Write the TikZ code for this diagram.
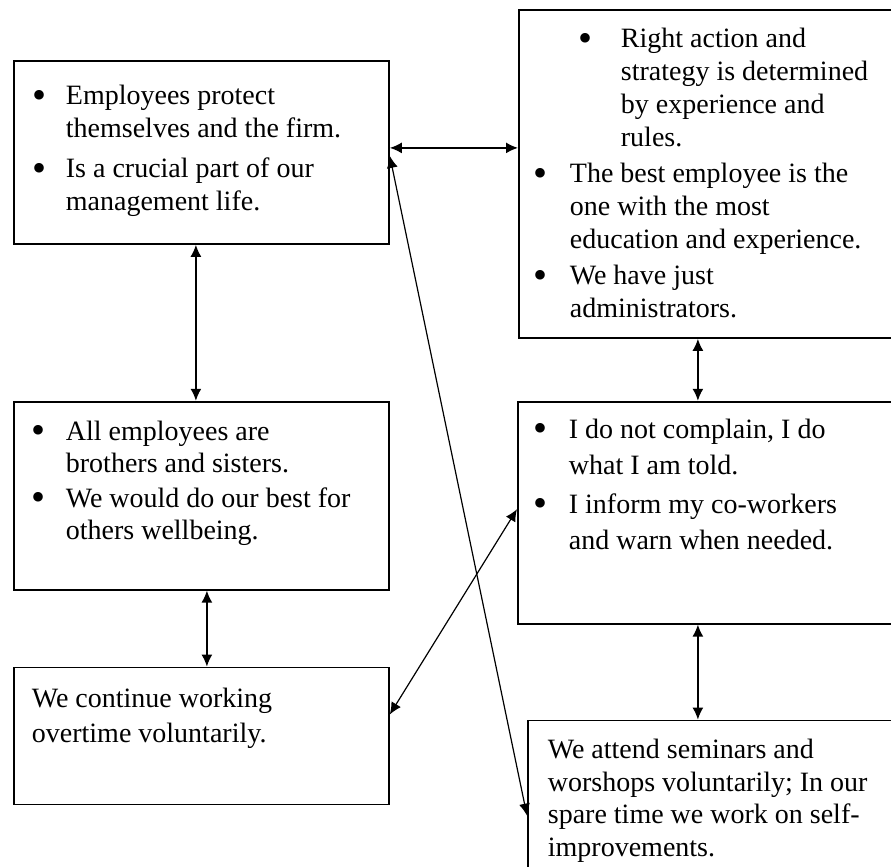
\documentclass[tikz,border=0pt]{standalone}
\usepackage{fontspec}
\setmainfont{Liberation Serif}
\usetikzlibrary{arrows,arrows.meta,positioning}

\newcommand{\bigdot}{\raisebox{-1.6pt}{\fontsize{20}{16}\selectfont\textbullet}}
\newenvironment{blist}[3]{\begin{list}{\bigdot}{%
  \setlength{\leftmargin}{#1}\setlength{\labelsep}{#2}%
  \setlength{\labelwidth}{\dimexpr#1-#2\relax}%
  \setlength{\itemsep}{#3}\setlength{\parsep}{0pt}%
  \setlength{\topsep}{0pt}\setlength{\partopsep}{0pt}}}{\end{list}}

% width, height, baselineskip, first baseline, text
\newcommand{\boxtext}[5]{\parbox[c][#2][t]{#1}{\fontsize{14}{#3}\selectfont
  \raggedright\vspace*{\dimexpr#4-\ht\strutbox\relax}#5}}

\begin{document}
\begin{tikzpicture}[x=0.5pt,y=0.5pt,
  box/.style={draw,line width=0.9pt,inner sep=0pt,anchor=north west},
  dbl/.style={{Latex[length=6pt,width=5.5pt]}-{Latex[length=6pt,width=5.5pt]},line width=0.8pt}]
  \path[use as bounding box] (0,0) rectangle (891,-867);
  \clip (0,0) rectangle (891,-867);

  \node[box] (empl) at (13,-60) {\boxtext{187.5pt}{91.5pt}{16.5pt}{22pt}{%
    \begin{blist}{26pt}{9.5pt}{3.5pt}
      \item\strut Employees protect\\ themselves and the firm.
      \item Is a crucial part of our\\ management life.
    \end{blist}}};
  \node[box] (rules) at (518,-9) {\boxtext{191pt}{164pt}{16.5pt}{19pt}{%
    \begin{blist}{51pt}{14pt}{0pt}
      \item\strut Right action and\\ strategy is determined\\ by experience and\\ rules.
    \end{blist}\vspace{1.5pt}
    \begin{blist}{25.5pt}{11pt}{1.5pt}
      \item The best employee is the\\ one with the most\\ education and experience.
      \item We have just\\ administrators.
    \end{blist}}};
  \node[below=78pt of empl.south west,box] (family) {\boxtext{187.5pt}{94pt}{16pt}{19.5pt}{%
    \begin{blist}{26pt}{10pt}{1.5pt}
      \item\strut All employees are\\ brothers and sisters.
      \item We would do our best for\\ others wellbeing.
    \end{blist}}};
  \node[below=38pt of family.south west,box] (overtime) {\boxtext{187.5pt}{68.5pt}{17.5pt}{20pt}{%
    \leftskip=9pt\strut We continue working\\ overtime voluntarily.}};
  \node[below=31pt of rules.south west,box,xshift=-0.5pt] (obey) {\boxtext{191.5pt}{111pt}{18pt}{18.5pt}{%
    \begin{blist}{25.5pt}{10.5pt}{1.5pt}
      \item\strut I do not complain, I do\\ what I am told.
      \item I inform my co-workers\\ and warn when needed.
    \end{blist}}};
  \node[below=47.5pt of obey.south west,box,xshift=5pt] (seminar) {\boxtext{186.5pt}{81.5pt}{16.25pt}{19pt}{%
    \leftskip=10pt\strut We attend seminars and\\ worshops voluntarily; In our\\ spare time we work on self-\\ improvements.}};

  \draw[dbl] ([yshift=2.25pt]empl.east) -- ([yshift=13pt]rules.west);
  \draw[dbl] ([xshift=-2.75pt]empl.south) -- ([xshift=-2.75pt]family.north);
  \draw[dbl] ([xshift=-6pt]rules.south) -- ([xshift=-5.75pt]obey.north);
  \draw[dbl] ([xshift=2.75pt]family.south) -- ([xshift=2.75pt]overtime.north);
  \draw[dbl] ([xshift=-5.75pt]obey.south) -- ([xshift=-8.25pt]seminar.north);
  \draw[dbl,line width=0.6pt] ([yshift=10.75pt]overtime.east) -- ([yshift=1.75pt]obey.west);
  \draw[dbl,line width=0.6pt] ([yshift=-1.75pt]empl.east) -- ([yshift=-48pt]seminar.north west);
\end{tikzpicture}
\end{document}
